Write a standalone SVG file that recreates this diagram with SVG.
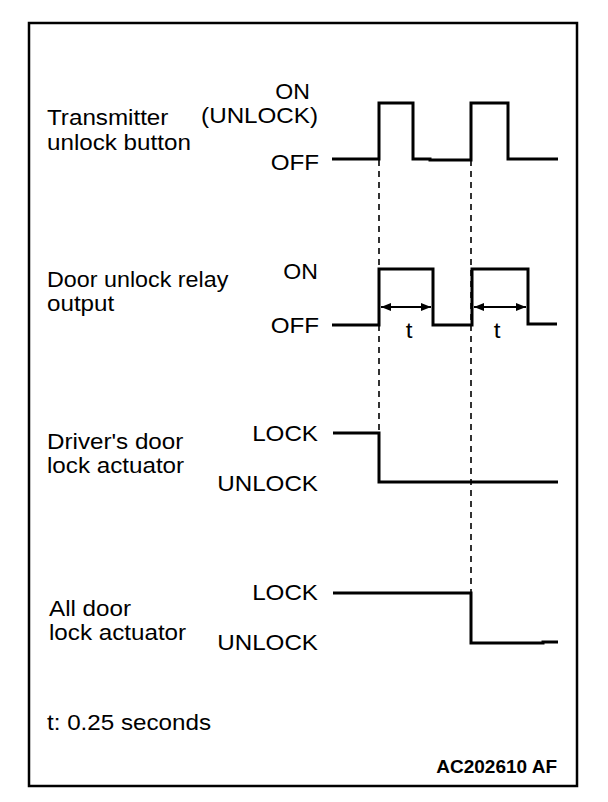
<svg xmlns="http://www.w3.org/2000/svg" width="608" height="802" viewBox="0 0 608 802">
<defs>
<style>
text{font-family:"Liberation Sans",Arial,sans-serif;font-size:22px;fill:#000}
.r{text-anchor:end}
.sig{fill:none;stroke:#000;stroke-width:3;stroke-linejoin:miter}
.dash{fill:none;stroke:#000;stroke-width:1.6;stroke-dasharray:6,5}
.dim{fill:none;stroke:#000;stroke-width:2}
.id{font-weight:bold;font-size:19px}
</style>
<marker id="ah" viewBox="0 0 10 8" refX="10" refY="4" markerWidth="10" markerHeight="8" markerUnits="userSpaceOnUse" orient="auto-start-reverse">
<path d="M0,0 L10,4 L0,8 Z" fill="#000"/>
</marker>
</defs>
<rect x="0" y="0" width="608" height="802" fill="#fff"/>
<rect x="29" y="23" width="548" height="763" fill="none" stroke="#000" stroke-width="2.5"/>

<g id="labels">
<text transform="translate(47,125) scale(1.1,1)">Transmitter</text>
<text transform="translate(47,150) scale(1.1,1)">unlock button</text>
<text transform="translate(47,287) scale(1.06,1)">Door unlock relay</text>
<text transform="translate(47,311) scale(1.1,1)">output</text>
<text transform="translate(47,449) scale(1.1,1)">Driver's door</text>
<text transform="translate(47,473) scale(1.1,1)">lock actuator</text>
<text transform="translate(49,616) scale(1.1,1)">All door</text>
<text transform="translate(49,640) scale(1.1,1)">lock actuator</text>
<text transform="translate(47,730) scale(1.1,1)">t: 0.25 seconds</text>
<text class="id" x="557" y="773" text-anchor="end">AC202610 AF</text>
</g>

<g id="levels">
<text class="r" transform="translate(310,99) scale(1.05,1)">ON</text>
<text class="r" transform="translate(318,123) scale(1.1,1)">(UNLOCK)</text>
<text class="r" transform="translate(319,170) scale(1.1,1)">OFF</text>
<text class="r" transform="translate(318,279) scale(1.05,1)">ON</text>
<text class="r" transform="translate(319,333) scale(1.1,1)">OFF</text>
<text class="r" transform="translate(318,441) scale(1.1,1)">LOCK</text>
<text class="r" transform="translate(318,491) scale(1.1,1)">UNLOCK</text>
<text class="r" transform="translate(318,600) scale(1.1,1)">LOCK</text>
<text class="r" transform="translate(318,650) scale(1.1,1)">UNLOCK</text>
</g>

<g id="connectors">
<line class="dash" x1="379" y1="160" x2="379" y2="482"/>
<line class="dash" x1="471" y1="160" x2="471" y2="593"/>
<polyline id="sig-transmitter" class="sig" points="332,159 379,159 379,103 413,103 413,159 430,159 430,160 471,160 471,103 508,103 508,159 558,159"/>
<polyline id="sig-relay" class="sig" points="332,325 379,325 379,269 433,269 433,325 472,325 472,269 528,269 528,324 557,324"/>
<polyline id="sig-driver" class="sig" points="333,433 379,433 379,482 558,482"/>
<polyline id="sig-all" class="sig" points="333,593 471,593 471,643 543,643 543,642 558,642"/>
<line class="dim" x1="381" y1="307" x2="431" y2="307" marker-start="url(#ah)" marker-end="url(#ah)"/>
<line class="dim" x1="474" y1="307" x2="526" y2="307" marker-start="url(#ah)" marker-end="url(#ah)"/>
<text transform="translate(409,338) scale(1.1,1)" text-anchor="middle">t</text>
<text transform="translate(497,338) scale(1.1,1)" text-anchor="middle">t</text>
</g>
</svg>
